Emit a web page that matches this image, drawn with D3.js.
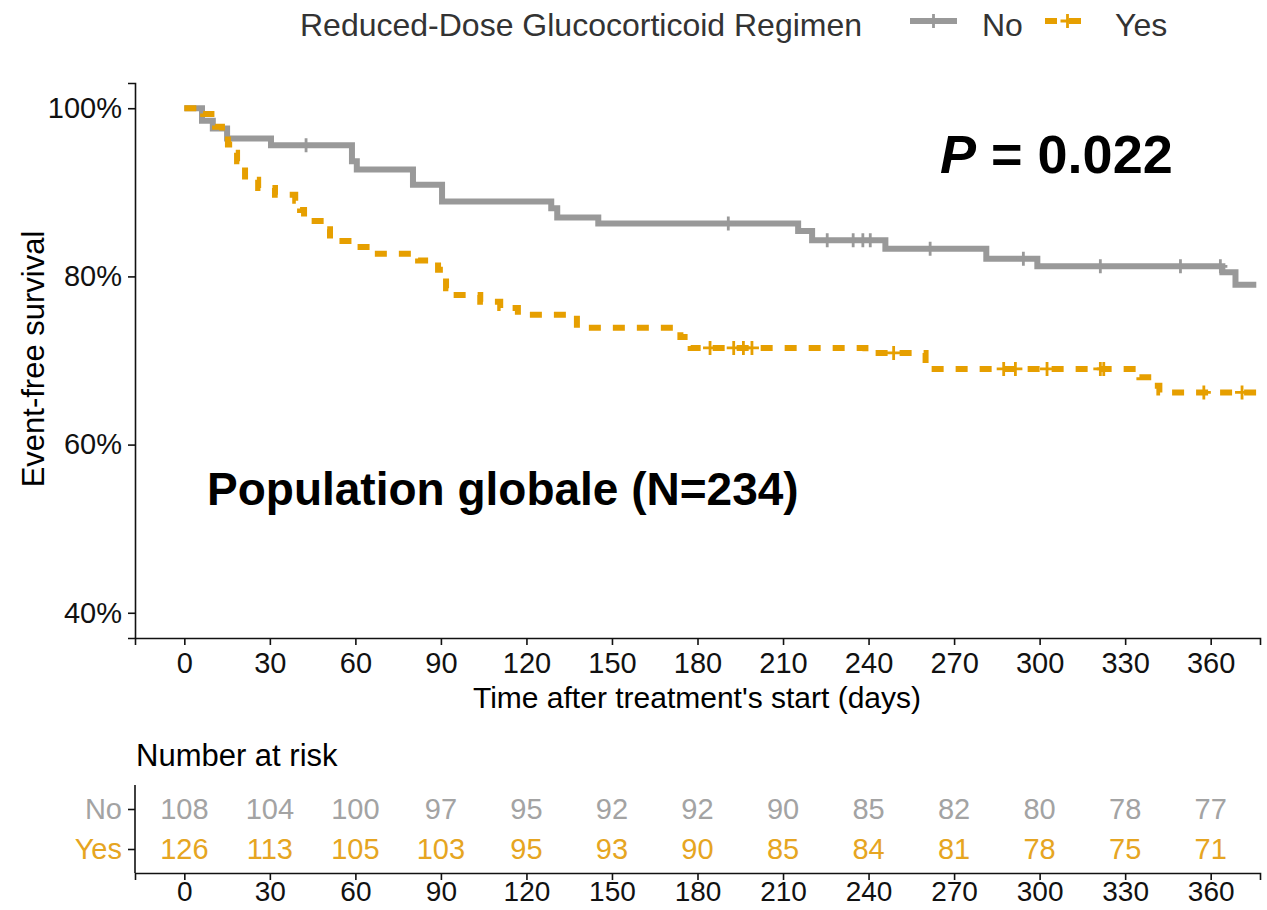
<!DOCTYPE html>
<html>
<head>
<meta charset="utf-8">
<script src="https://cdn.jsdelivr.net/npm/d3@7"></script>
<style>
  body { margin: 0; background: #fff; }
  svg { font-family: Arial, "Liberation Sans", sans-serif; }
  .axis path, .axis line { stroke: #111; stroke-width: 1.6px; }
  .axis text { font-size: 29px; }
</style>
</head>
<body>
<svg id="chart" width="1267" height="910"></svg>
<script>
const groups = ["No", "Yes"];
const groupColors = ["#999999", "#E69F00"];
const riskColors = ["#a3a3a3", "#E6A521"];

// Kaplan-Meier steps
const noTimes = [0, 6.2, 10, 15, 30.4, 58.8, 60.5, 80.2, 90.4, 128.7, 130.8, 145.2, 215.3, 220.2, 245.9, 281.3, 299.2, 364.1, 368.7, 376];
const noSurv = [1, 0.985, 0.976, 0.964, 0.956, 0.937, 0.927, 0.909, 0.889, 0.881, 0.870, 0.863, 0.854, 0.843, 0.833, 0.821, 0.812, 0.805, 0.790, 0.790];
const noCensor = [42.7, 190.8, 225.5, 234.6, 238, 240.6, 261.6, 294.3, 321.3, 349.4, 363.4];

const yesTimes = [0, 6.6, 10.8, 13.2, 15.3, 17.1, 18.5, 21.3, 25.9, 31.8, 38.9, 40.6, 42, 49.4, 51.1, 59.9, 66.2, 82, 89, 90.8, 91.8, 93.2, 103.8, 110.8, 117, 137.7, 174, 177.6, 238.9, 260, 335, 340, 342, 376.7];
const yesSurv = [1, 0.993, 0.978, 0.968, 0.957, 0.947, 0.937, 0.915, 0.905, 0.897, 0.890, 0.879, 0.866, 0.856, 0.842, 0.835, 0.827, 0.819, 0.808, 0.800, 0.786, 0.778, 0.770, 0.7625, 0.7545, 0.739, 0.728, 0.715, 0.709, 0.690, 0.680, 0.670, 0.662, 0.662];
const yesCensor = [184.4, 192.7, 196.1, 199.1, 248.8, 287.4, 291.5, 302.6, 321.3, 322.5, 357.6, 371];

const xTicks = [0, 30, 60, 90, 120, 150, 180, 210, 240, 270, 300, 330, 360];
const yTicks = [0.4, 0.6, 0.8, 1.0];
const riskNo = [108, 104, 100, 97, 95, 92, 92, 90, 85, 82, 80, 78, 77];
const riskYes = [126, 113, 105, 103, 95, 93, 90, 85, 84, 81, 78, 75, 71];

const svg = d3.select("#chart");

const x = d3.scaleLinear().domain([-17.3, 377.3]).range([135, 1260]);
const y = d3.scaleLinear().domain([0.37, 1.03]).range([638, 83]);

// axes of the survival panel
svg.append("g")
  .attr("class", "axis")
  .attr("transform", "translate(0,638)")
  .call(d3.axisBottom(x).tickValues(xTicks).tickSizeOuter(0).tickSize(7).tickPadding(7))
  .selectAll(".tick text").style("fill", "#111");

svg.append("g")
  .attr("class", "axis")
  .attr("transform", "translate(135,0)")
  .call(d3.axisLeft(y).tickValues(yTicks).tickFormat(d3.format(".0%")).tickSizeOuter(0).tickSize(7).tickPadding(6))
  .selectAll(".tick text").style("fill", "#111");

svg.append("text")
  .attr("transform", "translate(44,359) rotate(-90)")
  .attr("text-anchor", "middle")
  .attr("font-size", 31)
  .attr("fill", "#000")
  .text("Event-free survival");

svg.append("text")
  .attr("x", 697)
  .attr("y", 708)
  .attr("text-anchor", "middle")
  .attr("font-size", 30)
  .attr("fill", "#000")
  .text("Time after treatment's start (days)");

function stepData(times, surv) {
  return times.map((t, i) => ({t: t, s: surv[i]}));
}

function survAt(times, surv, t) {
  let s = surv[0];
  for (let i = 0; i < times.length; ++i) {
    if (times[i] <= t) s = surv[i];
  }
  return s;
}

const line = d3.line()
  .x(d => x(d.t))
  .y(d => y(d.s))
  .curve(d3.curveStepAfter);

function plusPath(px, py, h) {
  return "M" + (px - h) + "," + py + "H" + (px + h) + "M" + px + "," + (py - h) + "V" + (py + h);
}

const curves = [
  {times: noTimes, surv: noSurv, censor: noCensor, color: groupColors[0], dash: null},
  {times: yesTimes, surv: yesSurv, censor: yesCensor, color: groupColors[1], dash: "12,12"},
];

curves.forEach(c => {
  svg.append("path")
    .datum(stepData(c.times, c.surv))
    .attr("fill", "none")
    .attr("stroke", c.color)
    .attr("stroke-width", 6)
    .attr("stroke-dasharray", c.dash)
    .attr("d", line);

  svg.append("g")
    .selectAll("path")
    .data(c.censor)
    .enter()
    .append("path")
    .attr("fill", "none")
    .attr("stroke", c.color)
    .attr("stroke-width", 2.8)
    .attr("d", t => plusPath(x(t), y(survAt(c.times, c.surv, t)), 7));
});

// annotations
const pText = svg.append("text")
  .attr("x", 940)
  .attr("y", 173)
  .attr("font-size", 54)
  .attr("font-weight", "bold")
  .attr("fill", "#000");
pText.append("tspan").attr("font-style", "italic").text("P");
pText.append("tspan").text(" = 0.022");

svg.append("text")
  .attr("x", 207)
  .attr("y", 505)
  .attr("font-size", 46)
  .attr("font-weight", "bold")
  .attr("fill", "#000")
  .text("Population globale (N=234)");

// legend
svg.append("text")
  .attr("x", 300)
  .attr("y", 36)
  .attr("font-size", 32)
  .attr("fill", "#333")
  .text("Reduced-Dose Glucocorticoid Regimen");

const legendX = [[910, 957, 982], [1045, 1090, 1115]];
groups.forEach((g, i) => {
  const k = legendX[i];
  svg.append("line")
    .attr("x1", k[0]).attr("x2", k[1])
    .attr("y1", 21).attr("y2", 21)
    .attr("stroke", groupColors[i])
    .attr("stroke-width", 6)
    .attr("stroke-dasharray", curves[i].dash);
  svg.append("path")
    .attr("fill", "none")
    .attr("stroke", groupColors[i])
    .attr("stroke-width", 2.8)
    .attr("d", plusPath((k[0] + k[1]) / 2, 21, 7));
  svg.append("text")
    .attr("x", k[2])
    .attr("y", 36)
    .attr("font-size", 32)
    .attr("fill", "#333")
    .text(g);
});

// number at risk table
svg.append("text")
  .attr("x", 136)
  .attr("y", 766)
  .attr("font-size", 31)
  .attr("fill", "#000")
  .text("Number at risk");

const yRisk = d3.scalePoint().domain(groups).range([809, 849]);

const riskAxis = svg.append("g")
  .attr("class", "axis")
  .attr("transform", "translate(135,0)")
  .call(d3.axisLeft(yRisk).tickSize(7).tickPadding(6));
riskAxis.select(".domain").attr("d", "M0,785V873");
riskAxis.selectAll(".tick text").style("fill", (d, i) => riskColors[i]);

svg.append("g")
  .attr("class", "axis")
  .attr("transform", "translate(0,873)")
  .call(d3.axisBottom(x).tickValues(xTicks).tickSizeOuter(0).tickSize(7).tickPadding(1))
  .selectAll(".tick text").style("fill", "#111").style("font-size", "28px");

[riskNo, riskYes].forEach((row, i) => {
  svg.append("g")
    .selectAll("text")
    .data(row)
    .enter()
    .append("text")
    .attr("x", (d, j) => x(xTicks[j]))
    .attr("y", yRisk(groups[i]))
    .attr("dy", "0.35em")
    .attr("text-anchor", "middle")
    .attr("font-size", 29)
    .attr("fill", riskColors[i])
    .text(d => d);
});
</script>
</body>
</html>
